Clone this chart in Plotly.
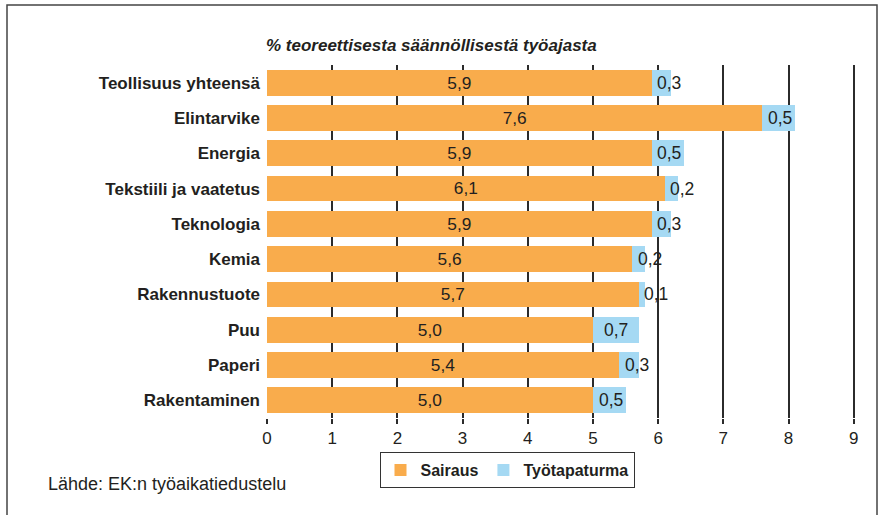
import plotly.graph_objects as go

categories = ["Teollisuus yhteensä", "Elintarvike", "Energia", "Tekstiili ja vaatetus",
              "Teknologia", "Kemia", "Rakennustuote", "Puu", "Paperi", "Rakentaminen"]
sairaus = [5.9, 7.6, 5.9, 6.1, 5.9, 5.6, 5.7, 5.0, 5.4, 5.0]
tyotapaturma = [0.3, 0.5, 0.5, 0.2, 0.3, 0.2, 0.1, 0.7, 0.3, 0.5]
x_ticks = list(range(0, 10))

ORANGE = "#F9AC4C"
BLUE = "#A5D9F3"
TXT = "#231F20"
FONT = "Liberation Sans, Arial, sans-serif"

def fmt(v):
    return f"{v:.1f}".replace(".", ",")

fig = go.Figure()
fig.add_trace(go.Bar(
    y=categories, x=sairaus, orientation="h", name="<b>Sairaus</b>",
    marker=dict(color=ORANGE, line=dict(width=0)),
    text=[fmt(v) for v in sairaus], textposition="inside",
    insidetextanchor="middle", textangle=0,
    textfont=dict(size=17.5, color=TXT, family=FONT),
    hoverinfo="skip",
))
fig.add_trace(go.Bar(
    y=categories, x=tyotapaturma, orientation="h", name="<b>Työtapaturma</b>",
    marker=dict(color=BLUE, line=dict(width=0)),
    hoverinfo="skip",
))

for c, s, t in zip(categories, sairaus, tyotapaturma):
    fig.add_annotation(x=s + max(t / 2, 0.27), y=c, text=fmt(t), showarrow=False,
                       xanchor="center", yanchor="middle",
                       font=dict(size=17.5, color=TXT, family=FONT))

# Title
fig.add_annotation(x=(264 - 267) / 588, y=(418 - 45) / 353, xref="paper", yref="paper",
                   text="<b><i>% teoreettisesta säännöllisestä työajasta</i></b>",
                   showarrow=False, xanchor="left", yanchor="middle",
                   font=dict(size=17, color=TXT, family=FONT))
# Source
fig.add_annotation(x=(46 - 267) / 588, y=(418 - 484) / 353, xref="paper", yref="paper",
                   text="Lähde: EK:n työaikatiedustelu",
                   showarrow=False, xanchor="left", yanchor="middle",
                   font=dict(size=18, color=TXT, family=FONT))
# Frame
fig.add_shape(type="rect", xref="paper", yref="paper",
              x0=(7 - 267) / 588, x1=(877 - 267) / 588,
              y0=(418 - 530) / 353, y1=(418 - 5) / 353,
              line=dict(color="#444444", width=1.5), fillcolor="rgba(0,0,0,0)", layer="below")

fig.update_layout(
    width=883, height=515,
    margin=dict(l=267, r=28, t=65, b=97),
    barmode="stack", bargap=0.27,
    paper_bgcolor="white", plot_bgcolor="white",
    font=dict(family=FONT, color=TXT),
    showlegend=True,
    legend=dict(orientation="h", x=(507 - 267) / 588, xanchor="center",
                y=(418 - 452) / 353, yanchor="top",
                bordercolor="#333333", borderwidth=1,
                font=dict(size=16, color=TXT, family=FONT),
                itemsizing="constant", traceorder="normal",
                itemwidth=30, tracegroupgap=0),
    xaxis=dict(range=[0, 9.02], tickvals=x_ticks, ticktext=[str(v) for v in x_ticks],
               showgrid=True, gridcolor="#2b2b2b", gridwidth=2,
               zeroline=False, showline=False,
               ticks="outside", ticklen=5, tickwidth=2, tickcolor="#2b2b2b",
               tickfont=dict(size=17, color=TXT, family=FONT)),
    yaxis=dict(autorange="reversed", showgrid=False, zeroline=False, showline=False,
               ticks="", ticklabelstandoff=6,
               tickfont=dict(size=17, color=TXT, family=FONT),
               tickvals=categories, ticktext=[f"<b>{c}</b>" for c in categories]),
)

fig.write_html("out.html", config={"displayModeBar": False},
               post_script="document.body.style.margin='0px';")
